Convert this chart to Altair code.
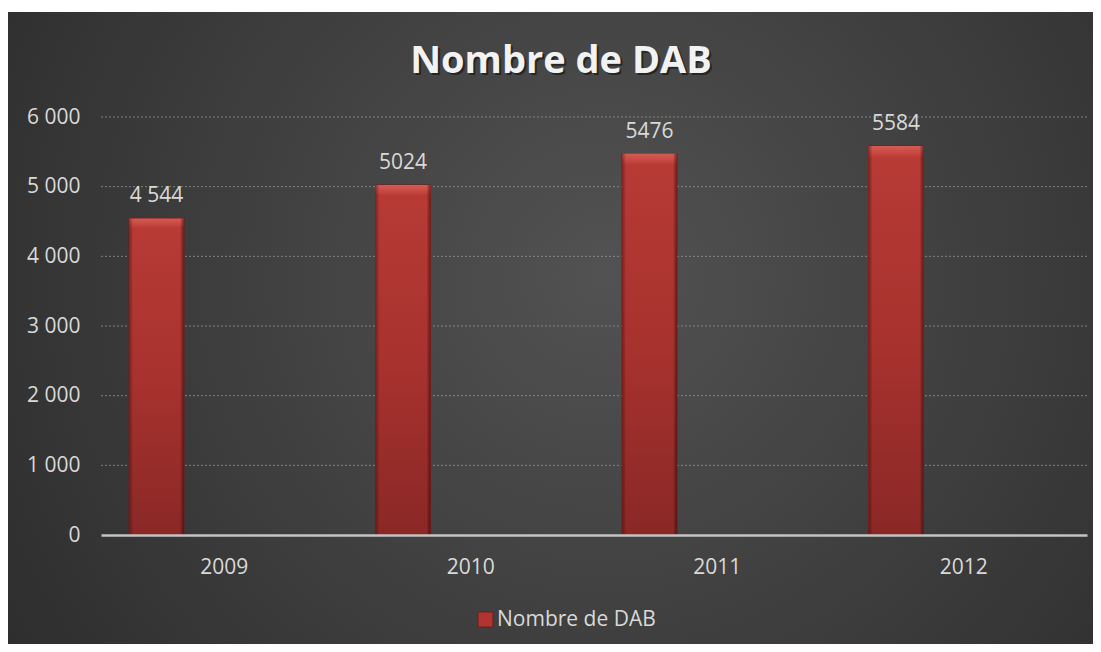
import altair as alt
import pandas as pd

years = ["2009", "2010", "2011", "2012"]
values = [4544, 5024, 5476, 5584]
value_labels = ["4 544", "5024", "5476", "5584"]
series_name = "Nombre de DAB"
chart_title = "Nombre de DAB"
y_ticks = [0, 1000, 2000, 3000, 4000, 5000, 6000]
grid_values = [1000, 2000, 3000, 4000, 5000, 6000]

W, H = 986, 418
FONT = "Open Sans"
TXT = "#d9d9d9"

df = pd.DataFrame({"year": years, "value": values, "label": value_labels,
                   "series": [series_name] * len(years)})
grid_df = pd.DataFrame({"value": grid_values})

x_axis = alt.Axis(title=None, labelAngle=0, ticks=False, tickSize=0,
                  labelPadding=21, labelFont=FONT, labelFontSize=21,
                  labelColor=TXT, domainColor="#c4c4c4", domainWidth=2.5,
                  grid=False, zindex=1)
y_axis = alt.Axis(title=None, values=y_ticks, ticks=False, tickSize=0,
                  domain=False, grid=False, labelPadding=21,
                  labelFont=FONT, labelFontSize=21, labelColor=TXT,
                  labelExpr="replace(format(datum.value, ','), ',', ' ')",
                  zindex=1)
x_scale = alt.Scale(paddingInner=0, paddingOuter=0)
y_scale = alt.Scale(domain=[0, 6000], nice=False)
x_enc = alt.X("year:N", sort=years, scale=x_scale, axis=x_axis)
y_enc = alt.Y("value:Q", scale=y_scale, axis=y_axis)

bg = alt.Chart(alt.Data(values=[{}])).mark_rect(
    fill={"gradient": "radial", "x1": 0.55, "y1": 0.45, "r1": 0,
          "x2": 0.55, "y2": 0.45, "r2": 0.75,
          "stops": [{"offset": 0, "color": "#525252"},
                    {"offset": 1, "color": "#282828"}]}
).encode(x=alt.value(-93), x2=alt.value(W + 6), y=alt.value(-105), y2=alt.value(H + 109))

grid = alt.Chart(grid_df).mark_rule(color="#9a9a9a", strokeDash=[2, 2], strokeWidth=1,
                                     opacity=0.75).encode(y=y_enc)

bar_base = alt.Chart(df).mark_bar(width=55, xOffset=-67.75, stroke="#6a1e1c", strokeWidth=1).encode(
    x=x_enc, y=y_enc,
    color=alt.Color("series:N", scale=alt.Scale(domain=[series_name], range=["#b0342f"]),
                    legend=alt.Legend(title=None, orient="none", legendX=374, legendY=492,
                                      symbolType="square", symbolSize=225,
                                      symbolStrokeColor="#6a1e1c", symbolStrokeWidth=1,
                                      labelFont=FONT, labelFontSize=21, labelColor=TXT,
                                      labelOffset=1, padding=0)))

bar_grad = alt.Chart(df).mark_bar(width=55, xOffset=-67.75, fill={
    "gradient": "linear", "x1": 0, "y1": 0, "x2": 0, "y2": 1,
    "stops": [{"offset": 0, "color": "#d65b53"},
              {"offset": 0.022, "color": "#c4443e"},
              {"offset": 0.03, "color": "#b73a35"},
              {"offset": 0.5, "color": "#a8322e"},
              {"offset": 1, "color": "#8a2826"}]}).encode(x=x_enc, y=y_enc)

bar_edge = alt.Chart(df).mark_bar(width=55, xOffset=-67.75, fill={
    "gradient": "linear", "x1": 0, "y1": 0, "x2": 1, "y2": 0,
    "stops": [{"offset": 0, "color": "rgba(70,10,10,0.45)"},
              {"offset": 0.07, "color": "rgba(0,0,0,0)"},
              {"offset": 0.93, "color": "rgba(0,0,0,0)"},
              {"offset": 1, "color": "rgba(50,5,5,0.55)"}]}).encode(x=x_enc, y=y_enc)

labels = alt.Chart(df).mark_text(dx=-67.75, dy=-16, baseline="alphabetic", align="center",
                                 font=FONT, fontSize=21, color=TXT).encode(
    x=x_enc, y=y_enc, text="label:N")

title_df = pd.DataFrame({"t": [chart_title]})
title_shadow = alt.Chart(title_df).mark_text(font=FONT, fontSize=38, fontWeight="bold",
                                             color="#111111", opacity=0.6, align="center",
                                             baseline="alphabetic").encode(
    text="t:N", x=alt.value(462), y=alt.value(-42))
title_txt = alt.Chart(title_df).mark_text(font=FONT, fontSize=38, fontWeight="bold",
                                          color="#f2f2f2", align="center",
                                          baseline="alphabetic").encode(
    text="t:N", x=alt.value(460), y=alt.value(-44))

chart = alt.layer(bg, grid, bar_base, bar_grad, bar_edge, labels, title_shadow, title_txt).properties(
    width=W, height=H,
    autosize=alt.AutoSizeParams(type="none"),
    padding={"left": 93, "top": 109, "right": 6, "bottom": 109},
    background="white",
).configure_view(stroke=None)

chart.save("out.html", embed_options={"renderer": "svg", "actions": False})
